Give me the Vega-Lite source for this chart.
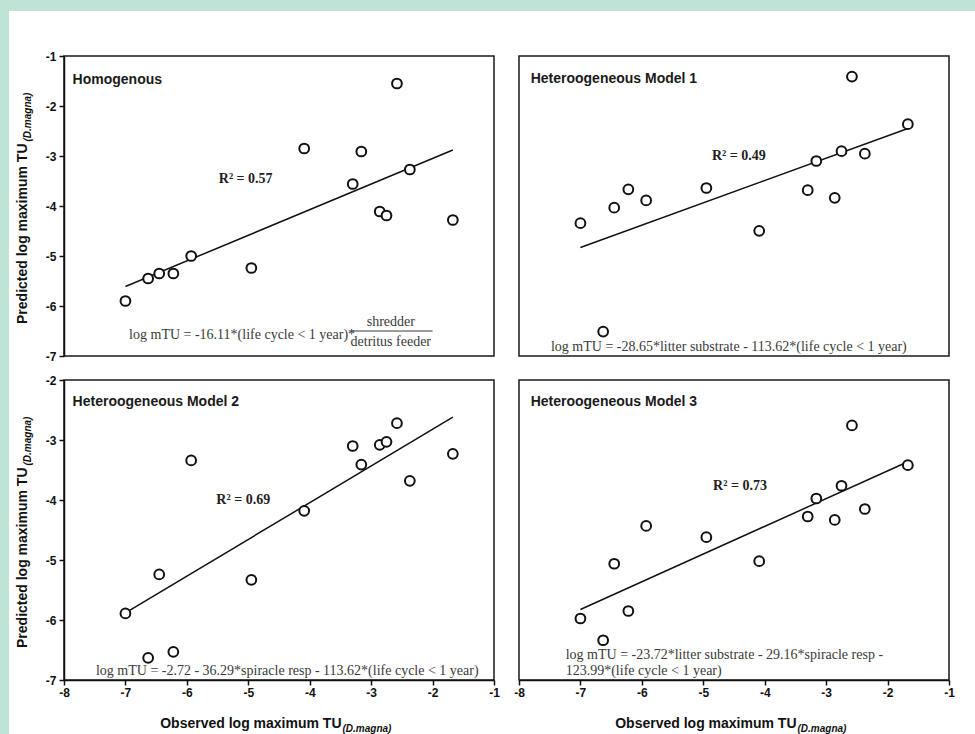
{
  "$schema": "https://vega.github.io/schema/vega-lite/v6.json",
  "background": "white",
  "padding": 0,
  "spacing": 0,
  "datasets": {
    "pts": [
      {"model": "Homogenous", "observed": -7.0, "predicted": -5.90},
      {"model": "Homogenous", "observed": -6.63, "predicted": -5.45},
      {"model": "Homogenous", "observed": -6.45, "predicted": -5.35},
      {"model": "Homogenous", "observed": -6.22, "predicted": -5.35},
      {"model": "Homogenous", "observed": -5.93, "predicted": -5.00},
      {"model": "Homogenous", "observed": -4.95, "predicted": -5.24},
      {"model": "Homogenous", "observed": -4.09, "predicted": -2.85},
      {"model": "Homogenous", "observed": -3.30, "predicted": -3.56},
      {"model": "Homogenous", "observed": -3.16, "predicted": -2.91},
      {"model": "Homogenous", "observed": -2.86, "predicted": -4.11},
      {"model": "Homogenous", "observed": -2.75, "predicted": -4.19},
      {"model": "Homogenous", "observed": -2.58, "predicted": -1.55},
      {"model": "Homogenous", "observed": -2.37, "predicted": -3.27},
      {"model": "Homogenous", "observed": -1.67, "predicted": -4.28},
      {"model": "Model 1", "observed": -7.0, "predicted": -4.90},
      {"model": "Model 1", "observed": -6.63, "predicted": -7.43},
      {"model": "Model 1", "observed": -6.45, "predicted": -4.54},
      {"model": "Model 1", "observed": -6.22, "predicted": -4.11},
      {"model": "Model 1", "observed": -5.93, "predicted": -4.37},
      {"model": "Model 1", "observed": -4.95, "predicted": -4.08},
      {"model": "Model 1", "observed": -4.09, "predicted": -5.08},
      {"model": "Model 1", "observed": -3.30, "predicted": -4.13},
      {"model": "Model 1", "observed": -3.16, "predicted": -3.45},
      {"model": "Model 1", "observed": -2.86, "predicted": -4.31},
      {"model": "Model 1", "observed": -2.75, "predicted": -3.22},
      {"model": "Model 1", "observed": -2.58, "predicted": -1.48},
      {"model": "Model 1", "observed": -2.37, "predicted": -3.28},
      {"model": "Model 1", "observed": -1.67, "predicted": -2.59},
      {"model": "Model 2", "observed": -7.0, "predicted": -5.89},
      {"model": "Model 2", "observed": -6.63, "predicted": -6.63},
      {"model": "Model 2", "observed": -6.45, "predicted": -5.24},
      {"model": "Model 2", "observed": -6.22, "predicted": -6.53},
      {"model": "Model 2", "observed": -5.93, "predicted": -3.34},
      {"model": "Model 2", "observed": -4.95, "predicted": -5.33},
      {"model": "Model 2", "observed": -4.09, "predicted": -4.18},
      {"model": "Model 2", "observed": -3.30, "predicted": -3.10},
      {"model": "Model 2", "observed": -3.16, "predicted": -3.41},
      {"model": "Model 2", "observed": -2.86, "predicted": -3.08},
      {"model": "Model 2", "observed": -2.75, "predicted": -3.03},
      {"model": "Model 2", "observed": -2.58, "predicted": -2.72},
      {"model": "Model 2", "observed": -2.37, "predicted": -3.68},
      {"model": "Model 2", "observed": -1.67, "predicted": -3.23},
      {"model": "Model 3", "observed": -7.0, "predicted": -6.36},
      {"model": "Model 3", "observed": -6.63, "predicted": -6.94},
      {"model": "Model 3", "observed": -6.45, "predicted": -4.90},
      {"model": "Model 3", "observed": -6.22, "predicted": -6.16},
      {"model": "Model 3", "observed": -5.93, "predicted": -3.89},
      {"model": "Model 3", "observed": -4.95, "predicted": -4.19},
      {"model": "Model 3", "observed": -4.09, "predicted": -4.83},
      {"model": "Model 3", "observed": -3.30, "predicted": -3.64},
      {"model": "Model 3", "observed": -3.16, "predicted": -3.16},
      {"model": "Model 3", "observed": -2.86, "predicted": -3.73},
      {"model": "Model 3", "observed": -2.75, "predicted": -2.82},
      {"model": "Model 3", "observed": -2.58, "predicted": -1.21},
      {"model": "Model 3", "observed": -2.37, "predicted": -3.44},
      {"model": "Model 3", "observed": -1.67, "predicted": -2.27}
    ],
    "fit": [
      {"model": "Homogenous", "observed": -7.0, "predicted": -5.61},
      {"model": "Homogenous", "observed": -1.67, "predicted": -2.88},
      {"model": "Model 1", "observed": -7.0, "predicted": -5.47},
      {"model": "Model 1", "observed": -1.67, "predicted": -2.69},
      {"model": "Model 2", "observed": -7.0, "predicted": -5.88},
      {"model": "Model 2", "observed": -1.67, "predicted": -2.62},
      {"model": "Model 3", "observed": -7.0, "predicted": -6.12},
      {"model": "Model 3", "observed": -1.67, "predicted": -2.18}
    ],
    "notes": [
      {"model": "Homogenous", "kind": "title", "observed": -7.86, "predicted": -1.47, "text": "Homogenous"},
      {"model": "Homogenous", "kind": "r2", "observed": -5.48, "predicted": -3.45, "text": "R² = 0.57"},
      {"model": "Homogenous", "kind": "eq", "observed": -6.94, "predicted": -6.58, "text": "log mTU = -16.11*(life cycle < 1 year)*"},
      {"model": "Homogenous", "kind": "frac", "observed": -2.68, "predicted": -6.31, "text": "shredder"},
      {"model": "Homogenous", "kind": "frac", "observed": -2.68, "predicted": -6.71, "text": "detritus feeder"},
      {"model": "Model 1", "kind": "title", "observed": -7.81, "predicted": -1.54, "text": "Heteroogeneous Model 1"},
      {"model": "Model 1", "kind": "r2", "observed": -4.86, "predicted": -3.33, "text": "R² = 0.49"},
      {"model": "Model 1", "kind": "eq", "observed": -7.48, "predicted": -7.79, "text": "log mTU = -28.65*litter substrate - 113.62*(life cycle < 1 year)"},
      {"model": "Model 2", "kind": "title", "observed": -7.86, "predicted": -2.36, "text": "Heteroogeneous Model 2"},
      {"model": "Model 2", "kind": "r2", "observed": -5.52, "predicted": -4.0, "text": "R² = 0.69"},
      {"model": "Model 2", "kind": "eq", "observed": -7.48, "predicted": -6.85, "text": "log mTU = -2.72 - 36.29*spiracle resp - 113.62*(life cycle < 1 year)"},
      {"model": "Model 3", "kind": "title", "observed": -7.81, "predicted": -0.58, "text": "Heteroogeneous Model 3"},
      {"model": "Model 3", "kind": "r2", "observed": -4.84, "predicted": -2.83, "text": "R² = 0.73"},
      {"model": "Model 3", "kind": "eq", "observed": -7.24, "predicted": -7.32, "text": "log mTU = -23.72*litter substrate - 29.16*spiracle resp -"},
      {"model": "Model 3", "kind": "eq", "observed": -7.24, "predicted": -7.76, "text": "123.99*(life cycle < 1 year)"}
    ],
    "fracline": [
      {"model": "Homogenous", "observed": -3.34, "observed_end": -2.0, "predicted": -6.5}
    ]
  },
  "config": {
    "view": {"stroke": "#1a1a1a", "strokeWidth": 1.5},
    "axis": {
      "grid": false,
      "domainColor": "#111111",
      "domainWidth": 1.5,
      "tickColor": "#111111",
      "tickWidth": 1.5,
      "tickSize": 5,
      "labelFont": "Liberation Sans",
      "labelFontWeight": "bold",
      "labelFontSize": 12,
      "labelColor": "#111111",
      "labelFlush": false,
      "labelOverlap": false,
      "labelExpr": "'' + datum.value",
      "titleFont": "Liberation Sans",
      "titleFontWeight": "bold",
      "titleFontSize": 14,
      "titleColor": "#111111"
    },
    "axisX": {"labelPadding": 2},
    "axisY": {"labelPadding": 3}
  },
  "vconcat": [
    {
      "width": 975,
      "height": 11,
      "data": {"values": []},
      "mark": "point",
      "view": {"fill": "#bfe3d4", "stroke": null}
    },
    {
      "spacing": 5,
      "hconcat": [
        {
          "width": 9,
          "height": 723,
          "data": {"values": []},
          "mark": "point",
          "view": {"fill": "#bfe3d4", "stroke": null}
        },
        {
          "spacing": 37,
          "vconcat": [
            {
              "width": 10,
              "height": 1,
              "data": {"values": []},
              "mark": "point",
              "view": {"stroke": null}
            },
            {
              "columns": 2,
              "bounds": "flush",
              "spacing": {"row": 24, "column": 25},
              "concat": [
                {
                  "width": 430,
                  "height": 300,
                  "resolve": {"axis": {"y": "independent"}},
                  "layer": [
                    {
                      "data": {"name": "fit"},
                      "transform": [{"filter": "datum.model === 'Homogenous'"}],
                      "mark": {"type": "line", "color": "#111111", "strokeWidth": 1.5},
                      "encoding": {
                        "x": {"field": "observed", "type": "quantitative",
                              "scale": {"domain": [-8, -1], "nice": false, "zero": false},
                              "axis": {"values": [-8, -7, -6, -5, -4, -3, -2, -1], "labels": false, "title": null}},
                        "y": {"field": "predicted", "type": "quantitative",
                              "scale": {"domain": [-7, -1], "nice": false, "zero": false},
                              "axis": {"values": [-7, -6, -5, -4, -3, -2, -1], "title": "Predicted log maximum TU",
                                       "titleAngle": 270, "titleAlign": "right", "titleBaseline": "alphabetic",
                                       "titleX": -38, "titleY": 87}}
                      }
                    },
                    {
                      "data": {"name": "pts"},
                      "transform": [{"filter": "datum.model === 'Homogenous'"}],
                      "mark": {"type": "point", "shape": "circle", "size": 95, "fill": "white", "fillOpacity": 1,
                               "stroke": "#111111", "strokeWidth": 2, "opacity": 1},
                      "encoding": {
                        "x": {"field": "observed", "type": "quantitative", "axis": null},
                        "y": {"field": "predicted", "type": "quantitative",
                              "axis": {"orient": "left", "title": "(D.magna)", "labels": false, "ticks": false, "domain": false,
                                       "titleFontSize": 10, "titleFontStyle": "italic", "titleAngle": 270,
                                       "titleAlign": "left", "titleBaseline": "alphabetic", "titleX": -34, "titleY": 85}}
                      }
                    },
                    {
                      "data": {"name": "notes"},
                      "transform": [{"filter": "datum.model === 'Homogenous' && datum.kind === 'title'"}],
                      "mark": {"type": "text", "font": "Liberation Sans", "fontWeight": "bold", "fontSize": 14,
                               "align": "left", "baseline": "middle", "color": "#1a1a1a"},
                      "encoding": {
                        "x": {"field": "observed", "type": "quantitative", "axis": null},
                        "y": {"field": "predicted", "type": "quantitative", "axis": null},
                        "text": {"field": "text"}
                      }
                    },
                    {
                      "data": {"name": "notes"},
                      "transform": [{"filter": "datum.model === 'Homogenous' && datum.kind === 'r2'"}],
                      "mark": {"type": "text", "font": "Liberation Serif", "fontWeight": "bold", "fontSize": 14,
                               "align": "left", "baseline": "middle", "color": "#222222"},
                      "encoding": {
                        "x": {"field": "observed", "type": "quantitative", "axis": null},
                        "y": {"field": "predicted", "type": "quantitative", "axis": null},
                        "text": {"field": "text"}
                      }
                    },
                    {
                      "data": {"name": "notes"},
                      "transform": [{"filter": "datum.model === 'Homogenous' && datum.kind === 'eq'"}],
                      "mark": {"type": "text", "font": "Liberation Serif", "fontSize": 14,
                               "align": "left", "baseline": "middle", "color": "#3a3a3a"},
                      "encoding": {
                        "x": {"field": "observed", "type": "quantitative", "axis": null},
                        "y": {"field": "predicted", "type": "quantitative", "axis": null},
                        "text": {"field": "text"}
                      }
                    },
                    {
                      "data": {"name": "notes"},
                      "transform": [{"filter": "datum.model === 'Homogenous' && datum.kind === 'frac'"}],
                      "mark": {"type": "text", "font": "Liberation Serif", "fontSize": 14,
                               "align": "center", "baseline": "middle", "color": "#3a3a3a"},
                      "encoding": {
                        "x": {"field": "observed", "type": "quantitative", "axis": null},
                        "y": {"field": "predicted", "type": "quantitative", "axis": null},
                        "text": {"field": "text"}
                      }
                    },
                    {
                      "data": {"name": "fracline"},
                      "mark": {"type": "rule", "color": "#3a3a3a", "strokeWidth": 1},
                      "encoding": {
                        "x": {"field": "observed", "type": "quantitative", "axis": null},
                        "x2": {"field": "observed_end"},
                        "y": {"field": "predicted", "type": "quantitative", "axis": null}
                      }
                    }
                  ]
                },
                {
                  "width": 430,
                  "height": 300,
                  "layer": [
                    {
                      "data": {"name": "fit"},
                      "transform": [{"filter": "datum.model === 'Model 1'"}],
                      "mark": {"type": "line", "color": "#111111", "strokeWidth": 1.5},
                      "encoding": {
                        "x": {"field": "observed", "type": "quantitative",
                              "scale": {"domain": [-8, -1], "nice": false, "zero": false},
                              "axis": {"values": [-8, -7, -6, -5, -4, -3, -2, -1], "labels": false, "title": null}},
                        "y": {"field": "predicted", "type": "quantitative",
                              "scale": {"domain": [-8, -1], "nice": false, "zero": false},
                              "axis": {"values": [-8, -7, -6, -5, -4, -3, -2, -1], "labels": false, "title": null}}
                      }
                    },
                    {
                      "data": {"name": "pts"},
                      "transform": [{"filter": "datum.model === 'Model 1'"}],
                      "mark": {"type": "point", "shape": "circle", "size": 95, "fill": "white", "fillOpacity": 1,
                               "stroke": "#111111", "strokeWidth": 2, "opacity": 1},
                      "encoding": {
                        "x": {"field": "observed", "type": "quantitative", "axis": null},
                        "y": {"field": "predicted", "type": "quantitative", "axis": null}
                      }
                    },
                    {
                      "data": {"name": "notes"},
                      "transform": [{"filter": "datum.model === 'Model 1' && datum.kind === 'title'"}],
                      "mark": {"type": "text", "font": "Liberation Sans", "fontWeight": "bold", "fontSize": 14,
                               "align": "left", "baseline": "middle", "color": "#1a1a1a"},
                      "encoding": {
                        "x": {"field": "observed", "type": "quantitative", "axis": null},
                        "y": {"field": "predicted", "type": "quantitative", "axis": null},
                        "text": {"field": "text"}
                      }
                    },
                    {
                      "data": {"name": "notes"},
                      "transform": [{"filter": "datum.model === 'Model 1' && datum.kind === 'r2'"}],
                      "mark": {"type": "text", "font": "Liberation Serif", "fontWeight": "bold", "fontSize": 14,
                               "align": "left", "baseline": "middle", "color": "#222222"},
                      "encoding": {
                        "x": {"field": "observed", "type": "quantitative", "axis": null},
                        "y": {"field": "predicted", "type": "quantitative", "axis": null},
                        "text": {"field": "text"}
                      }
                    },
                    {
                      "data": {"name": "notes"},
                      "transform": [{"filter": "datum.model === 'Model 1' && datum.kind === 'eq'"}],
                      "mark": {"type": "text", "font": "Liberation Serif", "fontSize": 14,
                               "align": "left", "baseline": "middle", "color": "#3a3a3a"},
                      "encoding": {
                        "x": {"field": "observed", "type": "quantitative", "axis": null},
                        "y": {"field": "predicted", "type": "quantitative", "axis": null},
                        "text": {"field": "text"}
                      }
                    }
                  ]
                },
                {
                  "width": 430,
                  "height": 300,
                  "resolve": {"axis": {"x": "independent", "y": "independent"}},
                  "layer": [
                    {
                      "data": {"name": "fit"},
                      "transform": [{"filter": "datum.model === 'Model 2'"}],
                      "mark": {"type": "line", "color": "#111111", "strokeWidth": 1.5},
                      "encoding": {
                        "x": {"field": "observed", "type": "quantitative",
                              "scale": {"domain": [-8, -1], "nice": false, "zero": false},
                              "axis": {"values": [-8, -7, -6, -5, -4, -3, -2, -1], "title": "Observed log maximum TU",
                                       "titleAngle": 0, "titleAlign": "right", "titleBaseline": "alphabetic",
                                       "titleX": 277, "titleY": 47}},
                        "y": {"field": "predicted", "type": "quantitative",
                              "scale": {"domain": [-7, -2], "nice": false, "zero": false},
                              "axis": {"values": [-7, -6, -5, -4, -3, -2], "title": "Predicted log maximum TU",
                                       "titleAngle": 270, "titleAlign": "right", "titleBaseline": "alphabetic",
                                       "titleX": -38, "titleY": 87}}
                      }
                    },
                    {
                      "data": {"name": "pts"},
                      "transform": [{"filter": "datum.model === 'Model 2'"}],
                      "mark": {"type": "point", "shape": "circle", "size": 95, "fill": "white", "fillOpacity": 1,
                               "stroke": "#111111", "strokeWidth": 2, "opacity": 1},
                      "encoding": {
                        "x": {"field": "observed", "type": "quantitative",
                              "axis": {"orient": "bottom", "title": "(D.magna)", "labels": false, "ticks": false, "domain": false,
                                       "titleFontSize": 10, "titleFontStyle": "italic", "titleAngle": 0,
                                       "titleAlign": "left", "titleBaseline": "alphabetic", "titleX": 278, "titleY": 51}},
                        "y": {"field": "predicted", "type": "quantitative",
                              "axis": {"orient": "left", "title": "(D.magna)", "labels": false, "ticks": false, "domain": false,
                                       "titleFontSize": 10, "titleFontStyle": "italic", "titleAngle": 270,
                                       "titleAlign": "left", "titleBaseline": "alphabetic", "titleX": -34, "titleY": 85}}
                      }
                    },
                    {
                      "data": {"name": "notes"},
                      "transform": [{"filter": "datum.model === 'Model 2' && datum.kind === 'title'"}],
                      "mark": {"type": "text", "font": "Liberation Sans", "fontWeight": "bold", "fontSize": 14,
                               "align": "left", "baseline": "middle", "color": "#1a1a1a"},
                      "encoding": {
                        "x": {"field": "observed", "type": "quantitative", "axis": null},
                        "y": {"field": "predicted", "type": "quantitative", "axis": null},
                        "text": {"field": "text"}
                      }
                    },
                    {
                      "data": {"name": "notes"},
                      "transform": [{"filter": "datum.model === 'Model 2' && datum.kind === 'r2'"}],
                      "mark": {"type": "text", "font": "Liberation Serif", "fontWeight": "bold", "fontSize": 14,
                               "align": "left", "baseline": "middle", "color": "#222222"},
                      "encoding": {
                        "x": {"field": "observed", "type": "quantitative", "axis": null},
                        "y": {"field": "predicted", "type": "quantitative", "axis": null},
                        "text": {"field": "text"}
                      }
                    },
                    {
                      "data": {"name": "notes"},
                      "transform": [{"filter": "datum.model === 'Model 2' && datum.kind === 'eq'"}],
                      "mark": {"type": "text", "font": "Liberation Serif", "fontSize": 14,
                               "align": "left", "baseline": "middle", "color": "#3a3a3a"},
                      "encoding": {
                        "x": {"field": "observed", "type": "quantitative", "axis": null},
                        "y": {"field": "predicted", "type": "quantitative", "axis": null},
                        "text": {"field": "text"}
                      }
                    }
                  ]
                },
                {
                  "width": 430,
                  "height": 300,
                  "resolve": {"axis": {"x": "independent"}},
                  "layer": [
                    {
                      "data": {"name": "fit"},
                      "transform": [{"filter": "datum.model === 'Model 3'"}],
                      "mark": {"type": "line", "color": "#111111", "strokeWidth": 1.5},
                      "encoding": {
                        "x": {"field": "observed", "type": "quantitative",
                              "scale": {"domain": [-8, -1], "nice": false, "zero": false},
                              "axis": {"values": [-8, -7, -6, -5, -4, -3, -2, -1], "title": "Observed log maximum TU",
                                       "titleAngle": 0, "titleAlign": "right", "titleBaseline": "alphabetic",
                                       "titleX": 277, "titleY": 47}},
                        "y": {"field": "predicted", "type": "quantitative",
                              "scale": {"domain": [-8, 0], "nice": false, "zero": false},
                              "axis": {"values": [-8, -7, -6, -5, -4, -3, -2, -1, 0], "labels": false, "title": null}}
                      }
                    },
                    {
                      "data": {"name": "pts"},
                      "transform": [{"filter": "datum.model === 'Model 3'"}],
                      "mark": {"type": "point", "shape": "circle", "size": 95, "fill": "white", "fillOpacity": 1,
                               "stroke": "#111111", "strokeWidth": 2, "opacity": 1},
                      "encoding": {
                        "x": {"field": "observed", "type": "quantitative",
                              "axis": {"orient": "bottom", "title": "(D.magna)", "labels": false, "ticks": false, "domain": false,
                                       "titleFontSize": 10, "titleFontStyle": "italic", "titleAngle": 0,
                                       "titleAlign": "left", "titleBaseline": "alphabetic", "titleX": 278, "titleY": 51}},
                        "y": {"field": "predicted", "type": "quantitative", "axis": null}
                      }
                    },
                    {
                      "data": {"name": "notes"},
                      "transform": [{"filter": "datum.model === 'Model 3' && datum.kind === 'title'"}],
                      "mark": {"type": "text", "font": "Liberation Sans", "fontWeight": "bold", "fontSize": 14,
                               "align": "left", "baseline": "middle", "color": "#1a1a1a"},
                      "encoding": {
                        "x": {"field": "observed", "type": "quantitative", "axis": null},
                        "y": {"field": "predicted", "type": "quantitative", "axis": null},
                        "text": {"field": "text"}
                      }
                    },
                    {
                      "data": {"name": "notes"},
                      "transform": [{"filter": "datum.model === 'Model 3' && datum.kind === 'r2'"}],
                      "mark": {"type": "text", "font": "Liberation Serif", "fontWeight": "bold", "fontSize": 14,
                               "align": "left", "baseline": "middle", "color": "#222222"},
                      "encoding": {
                        "x": {"field": "observed", "type": "quantitative", "axis": null},
                        "y": {"field": "predicted", "type": "quantitative", "axis": null},
                        "text": {"field": "text"}
                      }
                    },
                    {
                      "data": {"name": "notes"},
                      "transform": [{"filter": "datum.model === 'Model 3' && datum.kind === 'eq'"}],
                      "mark": {"type": "text", "font": "Liberation Serif", "fontSize": 14,
                               "align": "left", "baseline": "middle", "color": "#3a3a3a"},
                      "encoding": {
                        "x": {"field": "observed", "type": "quantitative", "axis": null},
                        "y": {"field": "predicted", "type": "quantitative", "axis": null},
                        "text": {"field": "text"}
                      }
                    }
                  ]
                }
              ]
            }
          ]
        }
      ]
    }
  ]
}
